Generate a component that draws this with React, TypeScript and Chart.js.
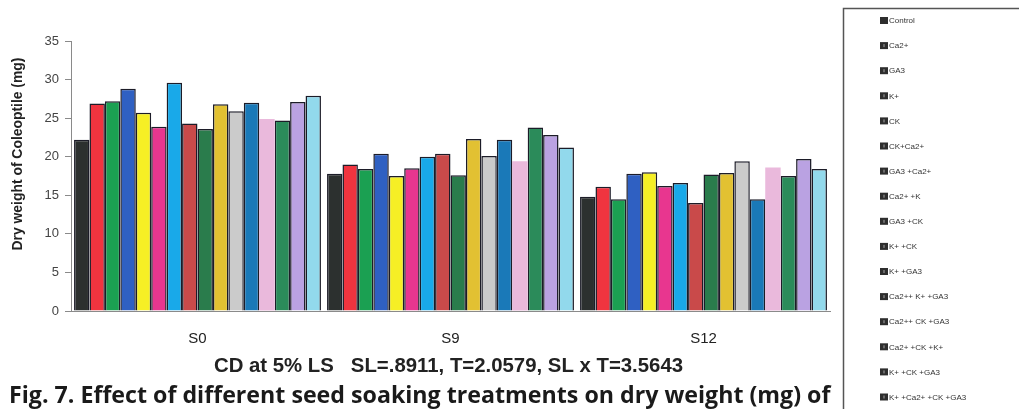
import React, { useEffect, useRef } from "react";
import { Chart, registerables } from "chart.js";

Chart.register(...registerables);

const categories = ["S0", "S9", "S12"];
const treatments = [
  "Control",
  "Ca2+",
  "GA3",
  "K+",
  "CK",
  "CK+Ca2+",
  "GA3 +Ca2+",
  "Ca2+ +K",
  "GA3 +CK",
  "K+ +CK",
  "K+ +GA3",
  "Ca2++ K+ +GA3",
  "Ca2++ CK +GA3",
  "Ca2+ +CK +K+",
  "K+ +CK +GA3",
  "K+ +Ca2+ +CK +GA3",
];
const valuesS0 = [22.2, 26.9, 27.2, 28.8, 25.7, 23.9, 29.6, 24.3, 23.6, 26.8, 25.9, 27.0, 24.9, 24.7, 27.1, 27.9];
const valuesS9 = [17.8, 19.0, 18.4, 20.4, 17.5, 18.5, 20.0, 20.4, 17.6, 22.3, 20.1, 22.2, 19.4, 23.8, 22.8, 21.2];
const valuesS12 = [14.8, 16.1, 14.5, 17.8, 18.0, 16.2, 16.6, 14.0, 17.7, 17.9, 19.4, 14.5, 18.6, 17.5, 19.7, 18.4];
const colors = [
  "#2c302f",
  "#f0343f",
  "#1ba052",
  "#2f60c2",
  "#f6ef25",
  "#e8368f",
  "#19a9e9",
  "#c94a4a",
  "#2a7c4c",
  "#e2c132",
  "#cbcbcb",
  "#1a79b8",
  "#eab9dc",
  "#2b8b5a",
  "#baa2e2",
  "#92d9ec",
];
const yTicks = [0, 5, 10, 15, 20, 25, 30, 35];
const yTitle = "Dry weight of Coleoptile (mg)";
const xTitle = "CD at 5% LS   SL=.8911, T=2.0579, SL x T=3.5643";
const caption = "Fig. 7. Effect of different seed soaking treatments on dry weight (mg) of";

const ARIAL = '"Liberation Sans", Arial, sans-serif';

function fitFont(ctx: CanvasRenderingContext2D, text: string, weight: string, family: string, base: number, target: number) {
  ctx.font = `${weight} ${base}px ${family}`;
  const w = ctx.measureText(text).width;
  const size = (base * target) / w;
  return `${weight} ${size.toFixed(2)}px ${family}`;
}

const extrasPlugin = {
  id: "extras",
  afterDraw(chart: any) {
    const ctx: CanvasRenderingContext2D = chart.ctx;
    ctx.save();
    ctx.fillStyle = "#222";
    ctx.translate(18, 154);
    ctx.rotate(-Math.PI / 2);
    ctx.font = fitFont(ctx, yTitle, "bold", ARIAL, 13, 193);
    ctx.textAlign = "center";
    ctx.textBaseline = "middle";
    ctx.fillText(yTitle, 0, 0);
    ctx.restore();

    ctx.save();
    ctx.fillStyle = "#222";
    ctx.font = fitFont(ctx, xTitle, "bold", ARIAL, 15, 469);
    ctx.textAlign = "center";
    ctx.textBaseline = "middle";
    ctx.fillText(xTitle, 448.5, 366);

    ctx.fillStyle = "#1a1a1a";
    ctx.font = fitFont(ctx, caption, "bold", '"Open Sans", sans-serif', 17, 822);
    ctx.textAlign = "left";
    ctx.fillText(caption, 9, 396);

    ctx.strokeStyle = "#555";
    ctx.lineWidth = 1.5;
    ctx.beginPath();
    ctx.moveTo(843.5, 410);
    ctx.lineTo(843.5, 8.5);
    ctx.lineTo(1020, 8.5);
    ctx.stroke();

    ctx.font = `8px ${ARIAL}`;
    ctx.textAlign = "left";
    ctx.textBaseline = "middle";
    treatments.forEach((t, i) => {
      const y = 21 + i * 25.1;
      ctx.fillStyle = "#2e2e2e";
      ctx.fillRect(880, y - 4, 8, 7);
      if (i > 0) {
        ctx.fillStyle = "#6a6a6a";
        ctx.fillRect(883, y - 2, 2, 3);
      }
      ctx.fillStyle = "#333";
      ctx.fillText(t, 889, y);
    });
    ctx.restore();
  },
};

export default function App() {
  const ref = useRef<HTMLCanvasElement>(null);
  useEffect(() => {
    if (!ref.current) return;
    const datasets = treatments.map((t, i) => ({
      label: t,
      data: [valuesS0[i], valuesS9[i], valuesS12[i]],
      backgroundColor: colors[i],
      borderColor: "#1c1c28",
      borderWidth: i === 12 ? 0 : 1.5,
      categoryPercentage: 0.976,
      barPercentage: 1.0,
    }));
    const chart = new Chart(ref.current, {
      type: "bar",
      data: { labels: categories, datasets },
      options: {
        animation: false,
        responsive: false,
        maintainAspectRatio: false,
        layout: { padding: { left: 0, right: 189, top: 41, bottom: 0 } },
        plugins: {
          legend: { display: false },
          tooltip: { enabled: false },
          title: { display: false },
        },
        scales: {
          x: {
            afterFit: (s: any) => {
              s.height = 98;
            },
            grid: { display: false, drawTicks: false },
            border: { display: true, color: "#8a8a8a", width: 1 },
            ticks: {
              padding: 19,
              color: "#222",
              font: { family: ARIAL, size: 15 },
            },
          },
          y: {
            min: 0,
            max: 35,
            afterFit: (s: any) => {
              s.width = 71;
            },
            afterBuildTicks: (s: any) => {
              s.ticks = yTicks.map((v) => ({ value: v }));
            },
            grid: { drawOnChartArea: false, drawTicks: true, tickLength: 6, color: "#8a8a8a" },
            border: { display: true, color: "#8a8a8a", width: 1 },
            ticks: {
              padding: 6,
              color: "#444",
              font: { family: ARIAL, size: 13 },
            },
          },
        },
      },
      plugins: [extrasPlugin],
    });
    return () => chart.destroy();
  }, []);
  return (
    <div style={{ position: "fixed", left: 0, top: 0, width: 1019, height: 409, background: "#fff" }}>
      <canvas ref={ref} width={1019} height={409} style={{ width: 1019, height: 409, display: "block" }} />
    </div>
  );
}
